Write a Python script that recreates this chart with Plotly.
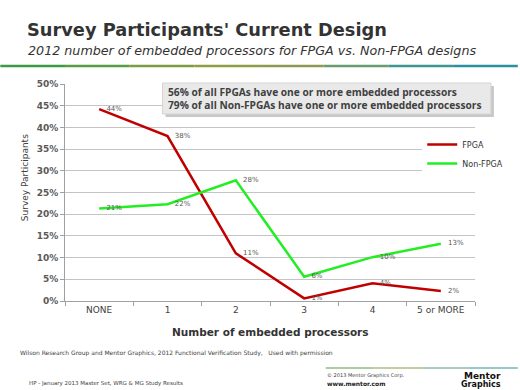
import plotly.graph_objects as go

categories = ["NONE", "1", "2", "3", "4", "5 or MORE"]
fpga = [44.2, 38.0, 11.0, 0.6, 4.1, 2.3]
non_fpga = [21.3, 22.3, 27.8, 5.6, 10.1, 13.2]
fpga_labels = ["44%", "38%", "11%", "1%", "4%", "2%"]
non_fpga_labels = ["21%", "22%", "28%", "6%", "10%", "13%"]
y_ticks = [0, 5, 10, 15, 20, 25, 30, 35, 40, 45, 50]
y_tick_labels = ["0%", "5%", "10%", "15%", "20%", "25%", "30%", "35%", "40%", "45%", "50%"]

W, H = 520, 390
L, R, T, B = 65, 477, 84, 301

def px(x):
    return (x - L) / (R - L)

def py(y):
    return (B - y) / (B - T)

fig = go.Figure()
fig.add_trace(go.Scatter(
    x=categories, y=fpga, name="FPGA", mode="lines+markers+text",
    line=dict(color="#c00000", width=2.5),
    marker=dict(size=10, color="rgba(0,0,0,0)", line=dict(width=0)),
    text=fpga_labels, textposition="middle right",
    textfont=dict(family="DejaVu Sans", size=7, color="#595959"),
    cliponaxis=False, hoverinfo="skip",
))
fig.add_trace(go.Scatter(
    x=categories, y=non_fpga, name="Non-FPGA", mode="lines+markers+text",
    line=dict(color="#22ee22", width=2.5),
    marker=dict(size=10, color="rgba(0,0,0,0)", line=dict(width=0)),
    text=non_fpga_labels, textposition="middle right",
    textfont=dict(family="DejaVu Sans", size=7, color="#595959"),
    cliponaxis=False, hoverinfo="skip",
))

shapes = []
# header rule (gradient approximated by segments)
header_cols = ["#3c9a46", "#5a9c44", "#7d9c42", "#8f9c44", "#8a9a50", "#6a9a70", "#3f9590", "#2b8fa0"]
n = len(header_cols)
for i, c in enumerate(header_cols):
    shapes.append(dict(type="line", xref="paper", yref="paper",
                       x0=px(W * i / n), x1=px(W * (i + 1) / n), y0=py(66), y1=py(66),
                       line=dict(color=c, width=2.5)))
# footer rule
foot_cols = ["#5a9c44", "#8a9a48", "#5a9880", "#2b8fa0"]
m = len(foot_cols)
for i, c in enumerate(foot_cols):
    x0 = 327 + (W - 327) * i / m
    x1 = 327 + (W - 327) * (i + 1) / m
    shapes.append(dict(type="line", xref="paper", yref="paper",
                       x0=px(x0), x1=px(x1), y0=py(368), y1=py(368),
                       line=dict(color=c, width=1)))
# callout box shadow + box
shapes.append(dict(type="rect", xref="paper", yref="paper",
                   x0=px(166), x1=px(496), y0=py(86), y1=py(117),
                   fillcolor="#c8c8c8", line=dict(width=0), layer="above"))
shapes.append(dict(type="rect", xref="paper", yref="paper",
                   x0=px(163), x1=px(493), y0=py(83), y1=py(114),
                   fillcolor="#e9e9e9", line=dict(color="#d4d4d4", width=1), layer="above"))

annotations = [
    dict(text="<b>Survey Participants' Current Design</b>", x=px(25), y=py(30),
         xanchor="left", yanchor="middle",
         font=dict(family="DejaVu Sans", size=17.8, color="#333333")),
    dict(text="<i>2012 number of embedded processors for FPGA vs. Non-FPGA designs</i>",
         x=px(26), y=py(50), xanchor="left", yanchor="middle",
         font=dict(family="DejaVu Sans", size=12.7, color="#333333")),
    dict(text="<b>56% of all FPGAs have one or more embedded processors<br>"
              "79% of all Non-FPGAs have one or more embedded processors</b>",
         x=px(166), y=py(98.5), xanchor="left", yanchor="middle", align="left",
         font=dict(family="Open Sans", size=10.2, color="#404040")),
    dict(text="Survey Participants", x=px(25), y=py(178), textangle=-90,
         xanchor="center", yanchor="middle",
         font=dict(family="DejaVu Sans", size=9, color="#404040")),
    dict(text="<b>Number of embedded processors</b>", x=0.5, y=py(332),
         xanchor="center", yanchor="middle",
         font=dict(family="DejaVu Sans", size=10.5, color="#333333")),
    dict(text="Wilson Research Group and Mentor Graphics, 2012 Functional Verification Study,   Used with permission",
         x=px(18), y=py(353), xanchor="left", yanchor="middle",
         font=dict(family="DejaVu Sans", size=6, color="#404040")),
    dict(text="HP - January 2013 Master Set, WRG &amp; MG Study Results",
         x=px(27), y=py(383), xanchor="left", yanchor="middle",
         font=dict(family="DejaVu Sans", size=5.5, color="#404040")),
    dict(text="© 2013 Mentor Graphics Corp.", x=px(326), y=py(375), xanchor="left", yanchor="middle",
         font=dict(family="DejaVu Sans", size=5, color="#404040")),
    dict(text="<b>www.mentor.com</b>", x=px(326), y=py(383), xanchor="left", yanchor="middle",
         font=dict(family="DejaVu Sans", size=6, color="#222222")),
    dict(text="<b>Mentor</b>", x=px(505), y=py(376), xanchor="right", yanchor="middle",
         font=dict(family="DejaVu Sans", size=9, color="#111111")),
    dict(text="<b>Graphics</b>", x=px(505), y=py(384), xanchor="right", yanchor="middle",
         font=dict(family="DejaVu Sans", size=8, color="#111111")),
]
for a in annotations:
    a.setdefault("xref", "paper")
    a.setdefault("yref", "paper")
    a.setdefault("showarrow", False)

fig.update_layout(
    width=W, height=H,
    margin=dict(l=L, r=W - R, t=T, b=H - B, pad=0),
    paper_bgcolor="white", plot_bgcolor="white",
    font=dict(family="DejaVu Sans", color="#404040"),
    showlegend=True, hovermode=False,
    legend=dict(x=px(424), y=py(130), xanchor="left", yanchor="top",
                bgcolor="white", borderwidth=0, tracegroupgap=0,
                itemwidth=30,
                font=dict(family="DejaVu Sans", size=8, color="#333333")),
    xaxis=dict(type="category", categoryorder="array", categoryarray=categories,
               range=[-0.5, 5.5], tickson="boundaries", ticks="outside", ticklen=4,
               tickcolor="#a0a0a0", showline=True, linecolor="#a0a0a0", linewidth=1,
               showgrid=False, zeroline=False,
               tickfont=dict(family="DejaVu Sans", size=9, color="#404040")),
    yaxis=dict(range=[0, 50], tickmode="array", tickvals=y_ticks, ticktext=y_tick_labels,
               ticks="outside", ticklen=4,
               tickcolor="#a0a0a0", showline=True, linecolor="#a0a0a0", linewidth=1,
               showgrid=True, gridcolor="#c4c4c4", gridwidth=1, zeroline=False,
               tickfont=dict(family="DejaVu Sans", size=9, color="#595959", weight="bold")),
    shapes=shapes,
    annotations=annotations,
)

fig.write_html("out.html", config={"displayModeBar": False},
               post_script="document.body.style.margin='0px';document.body.style.overflow='hidden';")
